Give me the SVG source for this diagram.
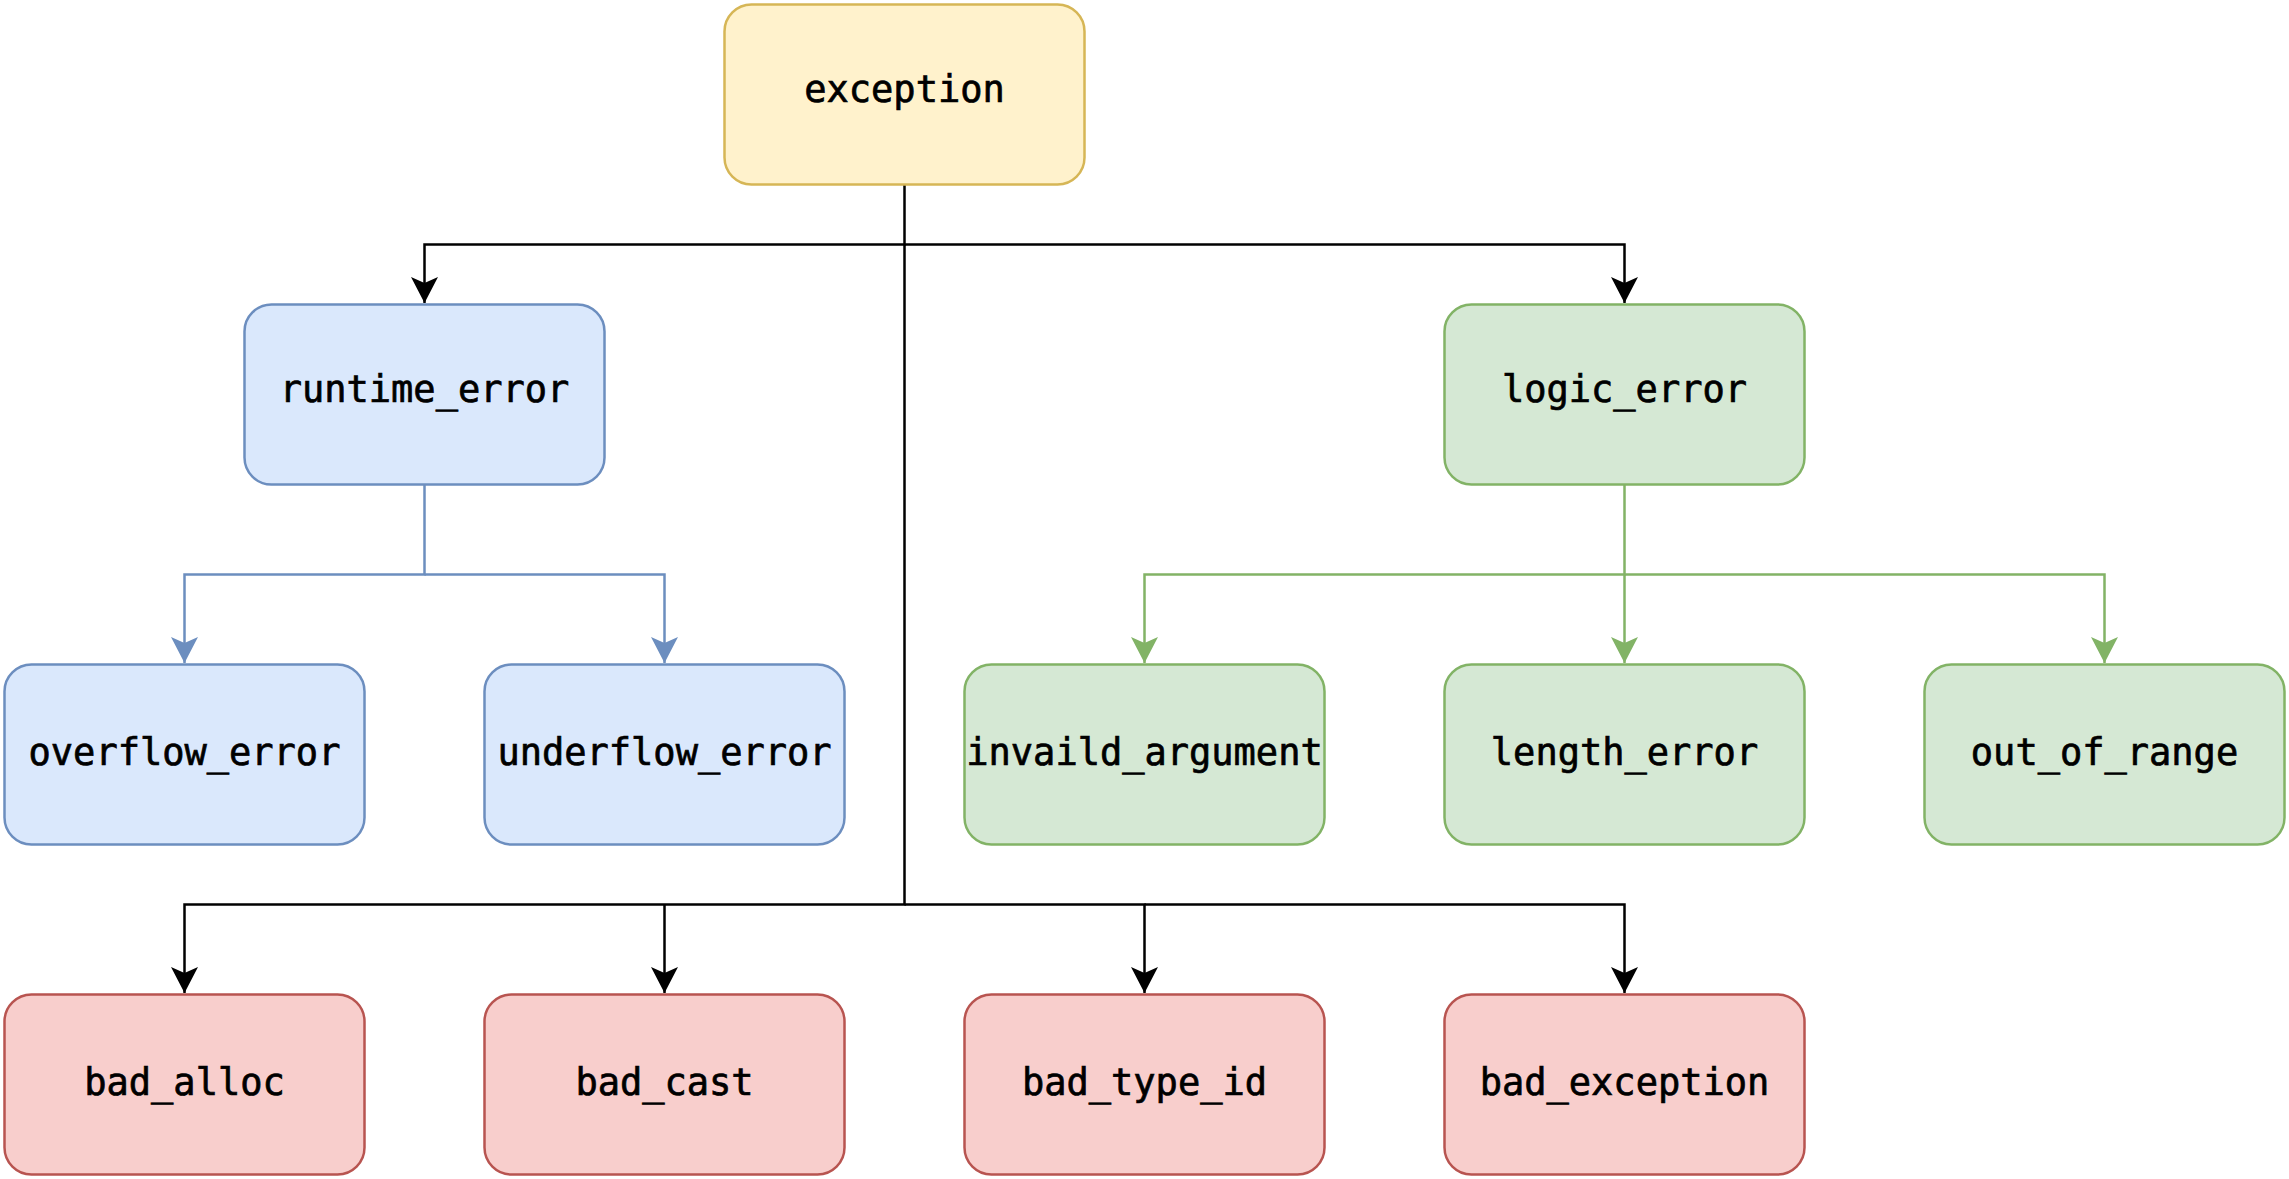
<svg xmlns="http://www.w3.org/2000/svg" width="2289" height="1179" viewBox="0 0 2289 1179">
<style>
.box{stroke-width:2.5}
.y{fill:#fff2cc;stroke:#d6b656}
.b{fill:#dae8fc;stroke:#6c8ebf}
.g{fill:#d5e8d4;stroke:#82b366}
.r{fill:#f8cecc;stroke:#b85450}
text{font-family:"DejaVu Sans Mono","Liberation Mono",monospace;font-size:37px;fill:#000;stroke:#000;stroke-width:0.7;text-anchor:middle}
.line{fill:none;stroke-width:2.5}
.k{stroke:#000}
.lb{stroke:#6c8ebf}
.lg{stroke:#82b366}
</style>
<defs>
<marker id="ak" markerUnits="userSpaceOnUse" markerWidth="30" markerHeight="30" viewBox="-15 -28 30 30" refX="0" refY="0" orient="auto" overflow="visible">
<path d="M0,0 L-13.5,-26 L0,-20 L13.5,-26 Z" transform="rotate(-90)" fill="#000"/>
</marker>
<marker id="ab" markerUnits="userSpaceOnUse" markerWidth="30" markerHeight="30" viewBox="-15 -28 30 30" refX="0" refY="0" orient="auto" overflow="visible">
<path d="M0,0 L-13.5,-26 L0,-20 L13.5,-26 Z" transform="rotate(-90)" fill="#6c8ebf"/>
</marker>
<marker id="ag" markerUnits="userSpaceOnUse" markerWidth="30" markerHeight="30" viewBox="-15 -28 30 30" refX="0" refY="0" orient="auto" overflow="visible">
<path d="M0,0 L-13.5,-26 L0,-20 L13.5,-26 Z" transform="rotate(-90)" fill="#82b366"/>
</marker>
</defs>
<g id="connectors">
<path class="line k" d="M904.5,184.5 V244.5 H424.5 V303" marker-end="url(#ak)"/>
<path class="line k" d="M904.5,244.5 H1624.5 V303" marker-end="url(#ak)"/>
<path class="line k" d="M904.5,244.5 V904.5 H184.5 V993" marker-end="url(#ak)"/>
<path class="line k" d="M664.5,904.5 V993" marker-end="url(#ak)"/>
<path class="line k" d="M904.5,904.5 H1144.5 V993" marker-end="url(#ak)"/>
<path class="line k" d="M1144.5,904.5 H1624.5 V993" marker-end="url(#ak)"/>
<path class="line lb" d="M424.5,484.5 V574.5 H184.5 V663" marker-end="url(#ab)"/>
<path class="line lb" d="M424.5,574.5 H664.5 V663" marker-end="url(#ab)"/>
<path class="line lg" d="M1624.5,484.5 V574.5 H1144.5 V663" marker-end="url(#ag)"/>
<path class="line lg" d="M1624.5,574.5 V663" marker-end="url(#ag)"/>
<path class="line lg" d="M1624.5,574.5 H2104.5 V663" marker-end="url(#ag)"/>
</g>
<g id="exception"><rect class="box y" x="724.5" y="4.5" width="360" height="180" rx="27"/><text x="904.5" y="102">exception</text></g>
<g id="runtime_error"><rect class="box b" x="244.5" y="304.5" width="360" height="180" rx="27"/><text x="424.5" y="402">runtime_error</text></g>
<g id="logic_error"><rect class="box g" x="1444.5" y="304.5" width="360" height="180" rx="27"/><text x="1624.5" y="402">logic_error</text></g>
<g id="overflow_error"><rect class="box b" x="4.5" y="664.5" width="360" height="180" rx="27"/><text x="184.5" y="765">overflow_error</text></g>
<g id="underflow_error"><rect class="box b" x="484.5" y="664.5" width="360" height="180" rx="27"/><text x="664.5" y="765">underflow_error</text></g>
<g id="invaild_argument"><rect class="box g" x="964.5" y="664.5" width="360" height="180" rx="27"/><text x="1144.5" y="765">invaild_argument</text></g>
<g id="length_error"><rect class="box g" x="1444.5" y="664.5" width="360" height="180" rx="27"/><text x="1624.5" y="765">length_error</text></g>
<g id="out_of_range"><rect class="box g" x="1924.5" y="664.5" width="360" height="180" rx="27"/><text x="2104.5" y="765">out_of_range</text></g>
<g id="bad_alloc"><rect class="box r" x="4.5" y="994.5" width="360" height="180" rx="27"/><text x="184.5" y="1095">bad_alloc</text></g>
<g id="bad_cast"><rect class="box r" x="484.5" y="994.5" width="360" height="180" rx="27"/><text x="664.5" y="1095">bad_cast</text></g>
<g id="bad_type_id"><rect class="box r" x="964.5" y="994.5" width="360" height="180" rx="27"/><text x="1144.5" y="1095">bad_type_id</text></g>
<g id="bad_exception"><rect class="box r" x="1444.5" y="994.5" width="360" height="180" rx="27"/><text x="1624.5" y="1095">bad_exception</text></g>
</svg>
